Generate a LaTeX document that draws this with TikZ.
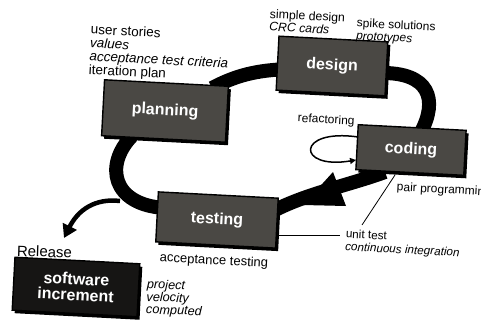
\documentclass[tikz,border=0pt]{standalone}
\usepackage{fontspec}
\setmainfont{Liberation Sans}
\usetikzlibrary{arrows.meta,shadows,backgrounds}
\definecolor{slab}{RGB}{74,72,68}
\definecolor{slabdark}{RGB}{22,21,20}
\begin{document}
\begin{tikzpicture}[x=1pt,y=-1pt,
  stage/.style={draw=black, line width=1.4pt, fill=slab, text=white,
    font=\fontsize{16}{17}\selectfont\bfseries, align=center, inner sep=0pt,
    rotate=-3,
    drop shadow={shadow xshift=2.5pt, shadow yshift=-3pt, fill=black, opacity=1}},
  note/.style={font=\fontsize{12.3}{12.8}\selectfont, align=left, inner sep=0pt,
    anchor=north west, rotate=-3},
  band/.style={line width=14pt, draw=black},
  leader/.style={line width=0.8pt, draw=black},
  loopline/.style={line width=1.5pt, draw=black, -{Triangle[length=6pt,width=6pt]}}]
\useasboundingbox (0,0) rectangle (481,321);

% process stages
\node[stage, minimum width=124pt, minimum height=56pt] (planning) at (165,111) {planning};
\node[stage, minimum width=109pt, minimum height=54pt] (design) at (332,66) {design};
\node[stage, minimum width=108pt, minimum height=45pt] (coding) at (411,150) {coding};
\node[stage, minimum width=120pt, minimum height=50pt] (testing) at (217,220) {testing};
\node[stage, fill=slabdark, minimum width=125pt, minimum height=53pt] (increment) at (76,287)
  {software\\[-1pt]increment};

% annotations
\node[note, font=\fontsize{13.5}{13.4}\selectfont] (plannotes) at (91,24)
  {user stories\\\textit{values}\\\textit{acceptance test criteria}\\iteration plan};
\node[note] (designnotes) at (270,9) {simple design\\\textit{CRC cards}};
\node[note, font=\fontsize{12}{12.8}\selectfont] (spikenotes) at (357,18)
  {spike solutions\\\textit{prototypes}};
\node[note, font=\fontsize{12}{12}\selectfont] (refactor) at (298,113) {refactoring};
\node[note, font=\fontsize{12}{12}\selectfont] (pairprog) at (397,182) {pair programming};
\node[note, font=\fontsize{11.7}{12.8}\selectfont] (unittest) at (346,229)
  {unit test\\\textit{continuous integration}};
\node[note, font=\fontsize{13}{13}\selectfont] (acctest) at (160,252) {acceptance testing};
\node[note, font=\fontsize{15}{15}\selectfont, rotate=1] (releaselabel) at (17,245) {Release};
\node[note, font=\fontsize{12.7}{12.6}\selectfont\itshape, rotate=1] (velocity) at (147,279)
  {project\\velocity\\computed};

% waypoints of the iteration cycle
\coordinate (p1) at (212,88);
\coordinate (d1) at (290,69);
\coordinate (d2) at (380,73);
\coordinate (c1) at (421,132);
\coordinate (c2) at (385,172);
\coordinate (t1) at (268,214);
\coordinate (t2) at (165,208);
\coordinate (p2) at (132,136);
\coordinate (branch) at (120,201);
\coordinate (relTip) at (64,238);
\coordinate (cLoopA) at (358,137);
\coordinate (cLoopB) at (356,160);
\coordinate (cLead) at (395,175);
\coordinate (uLead) at (362,225);
\coordinate (tLead) at (279,235);
\coordinate (uLead2) at (340,235);

\begin{scope}[on background layer]
  \fill[white] (0,0) rectangle (481,321);
  % the thick cycle band
  \draw[band] (p1) .. controls (235,76) and (255,70) .. (d1);
  \draw[band] (d2) .. controls (430,72) and (438,100) .. (c1);
  \draw[band] (c2) .. controls (350,185) and (300,195) .. (t1);
  \draw[band] (t2) .. controls (112,205) and (104,165) .. (p2);
  % release branch
  \draw[line width=4.5pt, -{Triangle[length=13pt,width=15pt]}]
    (branch) .. controls (95,198) and (78,210) .. (relTip);
\end{scope}

% direction arrowhead on the band
\fill[black] (303,205) -- (333,172) -- (346,206) -- cycle;

% refactoring loop
\draw[loopline] (cLoopA) .. controls (296,128) and (296,170) .. (cLoopB);

% leader lines
\draw[leader] (cLead) -- (uLead);
\draw[leader] (tLead) -- (uLead2);
\end{tikzpicture}
\end{document}
